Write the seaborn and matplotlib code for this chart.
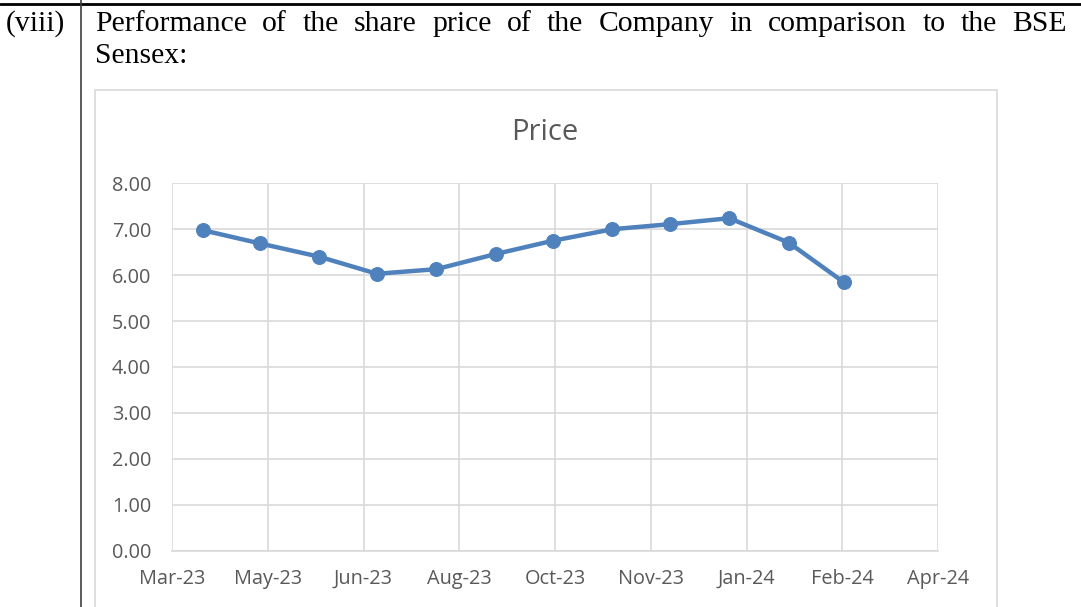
import numpy as np
import pandas as pd
import matplotlib
matplotlib.use("Agg")
import matplotlib.pyplot as plt
import seaborn as sns
from matplotlib.patches import Rectangle
from matplotlib.lines import Line2D

# month-end closing prices
dates = ["2023-03-31", "2023-04-30", "2023-05-31", "2023-06-30", "2023-07-31", "2023-08-31",
         "2023-09-30", "2023-10-31", "2023-11-30", "2023-12-31", "2024-01-31", "2024-02-29"]
price = [6.98, 6.69, 6.40, 6.03, 6.13, 6.46, 6.75, 7.00, 7.11, 7.24, 6.71, 5.84]

y_ticks = [0, 1, 2, 3, 4, 5, 6, 7, 8]
axis_start = "2023-03-15"
axis_end = "2024-04-18"
tick_step = "50D"

item_label = "(viii)"
heading_1 = "Performance of the share price of the Company in comparison to the BSE"
heading_2 = "Sensex:"
chart_title = "Price"

W, H = 1081, 607
blue = "#4f81bd"
grey_txt = "#595959"
grid_c = "#d9d9d9"

sns.set_theme(style="white")
plt.rcParams["font.family"] = ["Open Sans", "DejaVu Sans"]

df = pd.DataFrame({"date": pd.to_datetime(dates), "price": price})

fig = plt.figure(figsize=(W / 100, H / 100), dpi=100)
fig.patch.set_facecolor("white")


def fx(px):
    return px / W


def fy(py):
    return 1 - py / H


ax = fig.add_axes([fx(172), fy(550.7), fx(938) - fx(172), fy(183.3) - fy(550.7)])
ax.set_facecolor("none")

sns.lineplot(data=df, x="date", y="price", ax=ax, color=blue, linewidth=3.2,
             marker="o", markersize=10, markeredgecolor=blue, markerfacecolor=blue, zorder=3)

ticks = pd.date_range(axis_start, axis_end, freq=tick_step)
ax.set_xlim(pd.Timestamp(axis_start), pd.Timestamp(axis_end))
ax.set_xticks(ticks)
ax.set_xticklabels([t.strftime("%b-%y") for t in ticks])
ax.set_ylim(y_ticks[0], y_ticks[-1])
ax.set_yticks(y_ticks)
ax.set_yticklabels([f"{v:.2f}" for v in y_ticks])
ax.set_xlabel("")
ax.set_ylabel("")

ax.grid(True, color=grid_c, linewidth=1.2)
ax.set_axisbelow(True)
for s in ["left", "top", "right"]:
    ax.spines[s].set_visible(False)
ax.spines["bottom"].set_color(grid_c)
ax.spines["bottom"].set_linewidth(1.2)
ax.tick_params(axis="both", length=0, labelsize=14.3, colors=grey_txt)
ax.tick_params(axis="y", pad=15)
ax.tick_params(axis="x", pad=13)

# chart frame and title
fig.add_artist(Rectangle((fx(94.5), fy(620)), fx(996.7) - fx(94.5), fy(90) - fy(620),
                         transform=fig.transFigure, fill=False, edgecolor=grid_c, linewidth=1.2))
fig.text(fx(545), fy(133), chart_title, fontsize=21, color=grey_txt, ha="center", va="center")

# document table lines
fig.add_artist(Line2D([0, 1], [fy(3.5), fy(3.5)], transform=fig.transFigure, color="black", linewidth=2))
fig.add_artist(Line2D([fx(81), fx(81)], [0, 1], transform=fig.transFigure, color="#404040", linewidth=1.2))

serif = ["Liberation Serif", "DejaVu Serif"]
fsize = 21.3
fig.text(fx(6), fy(30.7), item_label, fontsize=fsize, family=serif, color="black", va="baseline")

# justified first line
fig.canvas.draw()
r = fig.canvas.get_renderer()
words = heading_1.split()
widths = []
for w in words:
    t = fig.text(0, 0, w, fontsize=fsize, family=serif)
    widths.append(t.get_window_extent(r).width)
    t.remove()
x0, x1 = 95, 1067
gap = (x1 - x0 - sum(widths)) / (len(words) - 1)
x = x0
for w, wd in zip(words, widths):
    fig.text(fx(x), fy(30.7), w, fontsize=fsize, family=serif, color="black", va="baseline")
    x += wd + gap
fig.text(fx(95), fy(63.3), heading_2, fontsize=fsize, family=serif, color="black", va="baseline")

fig.savefig("out.png", dpi=100, facecolor="white")
